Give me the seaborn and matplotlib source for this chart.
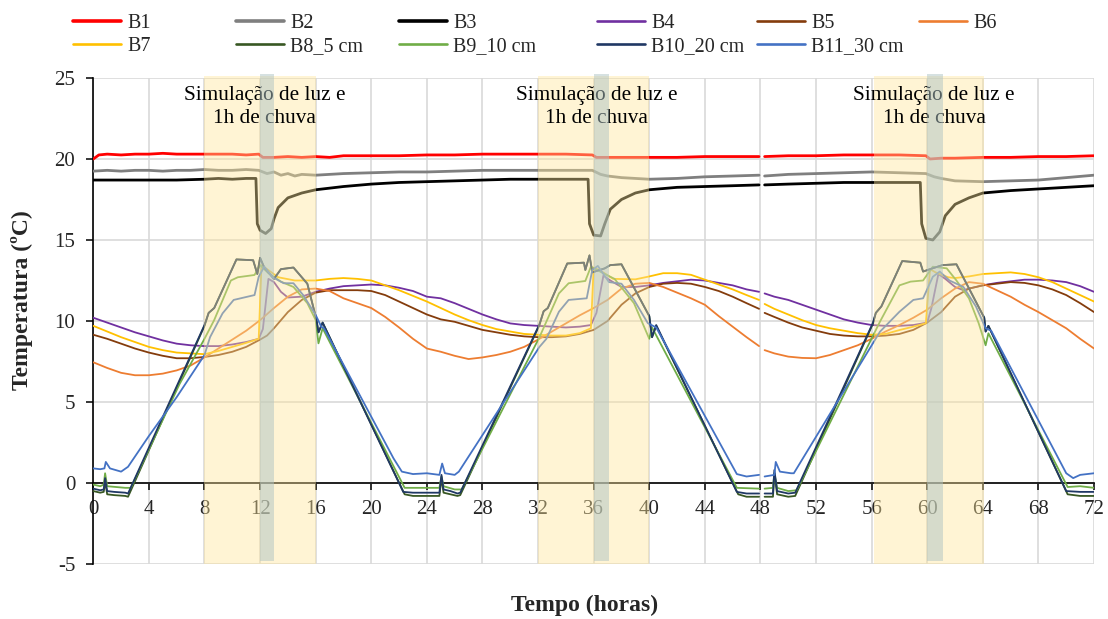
import numpy as np
import pandas as pd
import matplotlib
matplotlib.use("Agg")
import matplotlib.pyplot as plt
import seaborn as sns
from matplotlib.lines import Line2D

nan = float("nan")

# ---------------- data (hour, temperature °C) ----------------
B1 = [(0, 20.0), (0.4, 20.25), (1, 20.3), (2, 20.25), (3, 20.3), (4, 20.3), (5, 20.35), (6, 20.3),
      (7, 20.3), (8, 20.3), (9, 20.3), (10, 20.3), (11, 20.25), (11.9, 20.3), (12.2, 20.1), (13, 20.1),
      (14, 20.15), (15, 20.1), (16, 20.15), (17, 20.1), (18, 20.2), (20, 20.2), (22, 20.2), (24, 20.25),
      (26, 20.25), (28, 20.3), (30, 20.3), (32, 20.3), (34, 20.3), (35.9, 20.25), (36.2, 20.1), (37, 20.1),
      (38, 20.1), (40, 20.1), (42, 20.1), (44, 20.15), (46, 20.15), (47.9, 20.15), (48.1, nan), (48.3, 20.15),
      (50, 20.2), (52, 20.2), (54, 20.25), (56, 20.25), (58, 20.25), (59.9, 20.2), (60.2, 20.0), (61, 20.05),
      (62, 20.05), (64, 20.1), (66, 20.1), (68, 20.15), (70, 20.15), (72, 20.2)]

B2 = [(0, 19.25), (1, 19.3), (2, 19.25), (3, 19.3), (4, 19.3), (5, 19.25), (6, 19.3), (7, 19.3), (8, 19.35),
      (9, 19.3), (10, 19.3), (11, 19.35), (11.9, 19.3), (12.5, 19.1), (13, 19.2), (13.5, 19.0), (14, 19.1),
      (14.5, 18.95), (15, 19.05), (16, 19.0), (17, 19.05), (18, 19.1), (20, 19.15), (22, 19.2), (24, 19.2),
      (26, 19.25), (28, 19.3), (30, 19.3), (32, 19.3), (34, 19.3), (35.9, 19.3), (36.5, 19.05), (37, 18.95),
      (38, 18.85), (39, 18.8), (40, 18.75), (42, 18.8), (44, 18.9), (46, 18.95), (47.9, 19.0), (48.1, nan),
      (48.3, 18.95), (50, 19.05), (52, 19.1), (54, 19.15), (56, 19.2), (58, 19.15), (59.9, 19.1), (60.5, 18.9),
      (61, 18.8), (62, 18.65), (64, 18.6), (66, 18.65), (68, 18.7), (70, 18.85), (72, 19.0)]

B3 = [(0, 18.7), (2, 18.7), (4, 18.7), (6, 18.7), (8, 18.75), (9, 18.8), (10, 18.75), (11, 18.8), (11.7, 18.8),
      (11.8, 16.0), (12.0, 15.6), (12.4, 15.4), (12.8, 15.7), (13.0, 16.3), (13.3, 17.0), (14, 17.6), (15, 17.9),
      (16, 18.1), (18, 18.3), (20, 18.45), (22, 18.55), (24, 18.6), (26, 18.65), (28, 18.7), (30, 18.75),
      (32, 18.75), (34, 18.75), (35.6, 18.75), (35.7, 16.0), (36, 15.3), (36.5, 15.25), (36.8, 16.0),
      (37.2, 16.9), (38, 17.5), (39, 17.9), (40, 18.1), (42, 18.25), (44, 18.3), (46, 18.35), (47.9, 18.4),
      (48.1, nan), (48.3, 18.4), (50, 18.45), (52, 18.5), (54, 18.55), (56, 18.55), (58, 18.55), (59.5, 18.55),
      (59.6, 16.0), (59.9, 15.1), (60.4, 15.0), (60.9, 15.5), (61.3, 16.5), (62, 17.2), (63, 17.6), (64, 17.9),
      (66, 18.05), (68, 18.15), (70, 18.25), (72, 18.35)]

B4 = [(0, 10.2), (1, 9.9), (2, 9.6), (3, 9.3), (4, 9.05), (5, 8.8), (6, 8.6), (7, 8.5), (8, 8.45), (9, 8.45),
      (10, 8.55), (11, 8.7), (11.9, 8.9), (12.2, 9.5), (12.6, 12.6), (13, 12.4), (13.5, 11.8), (14, 11.45),
      (15, 11.5), (16, 11.8), (17, 12.0), (18, 12.15), (19, 12.2), (20, 12.25), (21, 12.2), (22, 12.05),
      (23, 11.85), (24, 11.5), (25, 11.4), (26, 11.1), (27, 10.75), (28, 10.4), (29, 10.1), (30, 9.85),
      (31, 9.75), (32, 9.7), (33, 9.65), (34, 9.6), (35, 9.65), (35.8, 9.75), (36.2, 10.5), (36.7, 12.8),
      (37.2, 12.5), (38, 12.1), (39, 12.1), (40, 12.2), (41, 12.35), (42, 12.45), (43, 12.55), (44, 12.5),
      (45, 12.35), (46, 12.2), (47, 11.95), (47.9, 11.8), (48.1, nan), (48.3, 11.7), (49, 11.5), (50, 11.3),
      (51, 11.0), (52, 10.7), (53, 10.4), (54, 10.1), (55, 9.9), (56, 9.75), (57, 9.7), (58, 9.7), (59, 9.75),
      (60, 9.9), (60.3, 10.8), (60.8, 12.9), (61.3, 12.6), (62, 12.1), (62.6, 11.9), (63, 12.0), (64, 12.2),
      (65, 12.35), (66, 12.45), (67, 12.55), (68, 12.55), (69, 12.5), (70, 12.4), (71, 12.15), (72, 11.8)]

B5 = [(0, 9.15), (1, 8.9), (2, 8.6), (3, 8.3), (4, 8.05), (5, 7.85), (6, 7.7), (7, 7.7), (8, 7.78), (9, 7.9),
      (10, 8.1), (11, 8.4), (12, 8.85), (12.5, 9.1), (13, 9.55), (14, 10.55), (15, 11.3), (16, 11.75),
      (17, 11.9), (18, 11.9), (19, 11.9), (20, 11.85), (21, 11.6), (22, 11.2), (23, 10.8), (24, 10.4),
      (25, 10.1), (26, 9.95), (27, 9.7), (28, 9.45), (29, 9.3), (30, 9.15), (31, 9.05), (32, 9.0), (33, 9.0),
      (34, 9.05), (35, 9.2), (36, 9.45), (37, 10.0), (38, 11.0), (39, 11.7), (40, 12.1), (41, 12.3),
      (42, 12.35), (43, 12.3), (44, 12.1), (45, 11.85), (46, 11.5), (47, 11.1), (47.9, 10.75), (48.1, nan),
      (48.3, 10.5), (49, 10.25), (50, 9.9), (51, 9.6), (52, 9.4), (53, 9.2), (54, 9.1), (55, 9.05), (56, 9.05),
      (57, 9.1), (58, 9.2), (59, 9.45), (60, 9.9), (61, 10.55), (62, 11.5), (63, 12.0), (64, 12.2), (65, 12.3),
      (66, 12.4), (67, 12.35), (68, 12.2), (69, 11.95), (70, 11.6), (71, 11.1), (72, 10.55)]

B6 = [(0, 7.45), (1, 7.1), (2, 6.8), (3, 6.65), (4, 6.65), (5, 6.75), (6, 6.95), (7, 7.25), (8, 7.75), (9, 8.3),
      (10, 8.85), (11, 9.4), (12, 10.05), (13, 10.8), (14, 11.5), (15, 11.95), (16, 12.0), (17, 11.85),
      (18, 11.4), (19, 11.1), (20, 10.8), (21, 10.25), (22, 9.6), (23, 8.9), (24, 8.3), (25, 8.1), (26, 7.85),
      (27, 7.65), (28, 7.75), (29, 7.9), (30, 8.1), (31, 8.4), (32, 8.85), (33, 9.35), (34, 9.85), (35, 10.35),
      (36, 10.8), (37, 11.3), (38, 12.0), (39, 12.3), (40, 12.35), (41, 12.1), (42, 11.75), (43, 11.4),
      (44, 11.0), (45, 10.3), (46, 9.65), (47, 9.0), (47.9, 8.45), (48.1, nan), (48.3, 8.2), (49, 8.0),
      (50, 7.8), (51, 7.72), (52, 7.7), (53, 7.9), (54, 8.2), (55, 8.5), (56, 8.9), (57, 9.35), (58, 9.75),
      (59, 10.2), (60, 10.7), (61, 11.4), (62, 12.0), (63, 12.4), (64, 12.3), (65, 11.9), (66, 11.5),
      (67, 11.0), (68, 10.55), (69, 10.05), (70, 9.55), (71, 8.9), (72, 8.3)]

B7 = [(0, 9.7), (1, 9.35), (2, 9.0), (3, 8.7), (4, 8.4), (5, 8.2), (6, 8.05), (7, 8.0), (8, 7.95), (9, 8.15),
      (10, 8.4), (11, 8.65), (11.9, 8.9), (12.1, 13.45), (12.5, 13.2), (13.3, 12.7), (14.5, 12.5), (16, 12.5),
      (17, 12.6), (18, 12.65), (19, 12.6), (20, 12.5), (21, 12.2), (22, 11.9), (23, 11.55), (24, 11.2),
      (25, 10.8), (26, 10.4), (27, 10.05), (28, 9.75), (29, 9.5), (30, 9.35), (31, 9.2), (32, 9.15), (33, 9.1),
      (34, 9.1), (35, 9.25), (35.8, 9.55), (36.0, 13.3), (36.5, 13.1), (37.4, 12.6), (39, 12.57), (40, 12.75),
      (41, 12.95), (42, 12.95), (43, 12.85), (44, 12.55), (45, 12.25), (46, 11.95), (47, 11.6), (47.9, 11.3),
      (48.1, nan), (48.3, 11.05), (49, 10.75), (50, 10.4), (51, 10.05), (52, 9.75), (53, 9.55), (54, 9.4),
      (55, 9.25), (56, 9.15), (57, 9.2), (58, 9.44), (59, 9.65), (59.9, 9.86), (60.2, 13.2), (60.6, 13.0),
      (61.5, 12.7), (62, 12.65), (63, 12.75), (64, 12.9), (65, 12.95), (66, 13.0), (67, 12.9), (68, 12.7),
      (69, 12.4), (70, 12.0), (71, 11.6), (72, 11.2)]

B8 = [(0, -0.5), (0.5, -0.6), (0.75, -0.55), (0.85, 0.1), (1.0, -0.7), (1.5, -0.75), (2.3, -0.8), (2.5, -0.85),
      (8.0, 9.7), (8.3, 10.5), (8.7, 10.8), (10.3, 13.8), (11.5, 13.75), (11.8, 12.9), (12.0, 13.9),
      (12.3, 13.3), (13.0, 12.6), (13.5, 13.2), (14.4, 13.3), (15.4, 12.3), (16.05, 10.1), (16.2, 9.3),
      (16.5, 9.9), (22.4, -0.7), (23, -0.8), (24, -0.8), (24.9, -0.8), (25.05, 0.3), (25.2, -0.6), (25.7, -0.7),
      (26.2, -0.8), (26.4, -0.75), (32.1, 9.75), (32.4, 10.6), (32.7, 10.8), (34.1, 13.55), (35.3, 13.6),
      (35.4, 13.15), (35.7, 14.05), (35.9, 13.0), (36.8, 13.25), (37.2, 13.45), (38.0, 13.5), (40.0, 10.3),
      (40.2, 9.0), (40.5, 9.7), (46.4, -0.7), (47, -0.85), (47.9, -0.85), (48.1, nan), (48.3, -0.85),
      (48.9, -0.85), (49.0, 0.6), (49.2, -0.7), (50, -0.85), (50.5, -0.8), (56.1, 9.85), (56.3, 10.5),
      (56.7, 10.9), (58.2, 13.7), (59.5, 13.6), (59.7, 13.05), (60.2, 13.2), (61.1, 13.45), (62.1, 13.5),
      (64.1, 10.2), (64.2, 9.35), (64.4, 9.7), (70.1, -0.7), (71, -0.8), (72, -0.8)]

B9 = [(0, -0.1), (0.5, -0.2), (0.75, -0.1), (0.85, 0.6), (1.0, -0.2), (2.3, -0.3), (2.7, -0.3), (6.2, 6.1),
      (8.0, 8.9), (8.7, 10.06), (9.9, 12.5), (10.4, 12.7), (11.6, 12.84), (12.0, 13.45), (12.6, 12.95),
      (13.5, 12.43), (14.4, 12.1), (15.4, 11.1), (16.0, 10.06), (16.2, 8.62), (16.5, 9.55), (22.4, -0.3),
      (24.9, -0.3), (25.05, 0.4), (25.2, -0.2), (26, -0.4), (26.5, -0.4), (32.1, 9.0), (33.5, 11.7),
      (34.2, 12.33), (35.4, 12.47), (35.8, 13.35), (36.8, 12.9), (37.5, 12.6), (38.9, 11.1), (40.0, 8.9),
      (40.2, 9.6), (46.3, -0.3), (47.9, -0.35), (48.1, nan), (48.3, -0.35), (48.9, -0.3), (49.0, 0.6),
      (49.2, -0.3), (50, -0.5), (50.6, -0.45), (56.6, 9.96), (58.0, 12.2), (58.8, 12.43), (59.7, 12.5),
      (60.4, 13.35), (61.4, 13.25), (62.1, 12.5), (63.0, 11.4), (63.7, 9.86), (64.2, 8.5), (64.4, 9.24),
      (70.1, -0.25), (71, -0.2), (72, -0.3)]

B10 = [(0, -0.35), (0.5, -0.45), (0.75, -0.4), (0.85, 0.3), (1.0, -0.5), (1.5, -0.55), (2.3, -0.6), (2.5, -0.65),
       (8.0, 9.75), (8.3, 10.5), (8.7, 10.8), (10.3, 13.8), (11.5, 13.75), (11.8, 12.9), (12.0, 13.9),
       (12.3, 13.3), (13.0, 12.6), (13.5, 13.2), (14.4, 13.3), (15.4, 12.3), (16.05, 10.1), (16.2, 9.3),
       (16.5, 9.9), (22.3, -0.55), (23, -0.6), (24, -0.6), (24.9, -0.6), (25.05, 0.5), (25.2, -0.4),
       (25.7, -0.5), (26.2, -0.65), (26.4, -0.6), (32.1, 9.8), (32.4, 10.6), (32.7, 10.8), (34.1, 13.55),
       (35.3, 13.6), (35.4, 13.15), (35.7, 14.05), (35.9, 13.0), (36.8, 13.25), (37.2, 13.45), (38.0, 13.5),
       (40.0, 10.3), (40.2, 9.0), (40.5, 9.75), (46.3, -0.55), (47, -0.65), (47.9, -0.65), (48.1, nan),
       (48.3, -0.65), (48.9, -0.65), (49.0, 0.8), (49.2, -0.5), (50, -0.65), (50.5, -0.6), (56.1, 9.9),
       (56.3, 10.5), (56.7, 10.9), (58.2, 13.7), (59.5, 13.6), (59.7, 13.05), (60.2, 13.2), (61.1, 13.45),
       (62.1, 13.5), (64.1, 10.2), (64.2, 9.35), (64.4, 9.7), (70.0, -0.5), (71, -0.55), (72, -0.55)]

B11 = [(0, 0.9), (0.5, 0.85), (0.8, 0.9), (0.9, 1.3), (1.2, 0.9), (2.0, 0.7), (2.5, 1.0), (4, 2.9), (6, 5.3),
       (8, 7.9), (8.4, 9.0), (9.3, 10.47), (10.1, 11.3), (11.6, 11.6), (11.9, 12.73), (12.3, 13.35),
       (12.9, 12.7), (13.7, 12.33), (14.4, 12.33), (15.1, 11.6), (16.0, 10.37), (16.4, 9.65), (16.6, 9.55),
       (21.6, 1.52), (22.2, 0.7), (23, 0.55), (24, 0.6), (24.9, 0.5), (25.1, 1.2), (25.3, 0.6), (26.0, 0.5),
       (26.3, 0.7), (32.1, 8.4), (32.6, 8.9), (33.5, 10.57), (34.2, 11.3), (35.5, 11.4), (35.9, 13.15),
       (36.3, 13.4), (37.1, 12.4), (38.0, 12.3), (38.9, 11.3), (39.9, 9.86), (40.5, 9.6), (46.3, 0.55),
       (47, 0.4), (47.9, 0.5), (48.1, nan), (48.3, 0.4), (49.0, 0.5), (49.1, 1.3), (49.4, 0.7), (50.2, 0.6),
       (50.4, 0.6), (56.6, 9.34), (58.0, 10.57), (59.0, 11.3), (59.7, 11.4), (60.4, 12.73), (60.9, 13.05),
       (61.6, 12.5), (62.6, 12.1), (63.5, 10.9), (64.2, 9.55), (64.6, 9.4), (70.0, 0.6), (70.5, 0.3),
       (71, 0.5), (72, 0.6)]

SERIES = [B1, B2, B3, B4, B5, B6, B7, B8, B9, B10, B11]
LABELS = ["B1", "B2", "B3", "B4", "B5", "B6", "B7", "B8_5 cm", "B9_10 cm", "B10_20 cm", "B11_30 cm"]
COLORS = ["#FF0000", "#7F7F7F", "#000000", "#7030A0", "#843C0C", "#ED7D31", "#FFC000",
          "#385723", "#70AD47", "#203864", "#4472C4"]
WIDTHS = [2.0, 2.0, 2.0, 1.3, 1.3, 1.3, 1.3, 1.3, 1.3, 1.3, 1.3]

LIGHT_PERIODS = [(8.0, 16.0), (32.0, 40.0), (56.2, 64.1)]
RAIN_PERIODS = [(12.0, 13.0), (36.0, 37.1), (60.0, 61.1)]
NOTE_X = [12.3, 36.2, 60.5]
NOTE_LINES = ["Simulação de luz e", "1h de chuva"]
X_TICKS = list(range(0, 73, 4))
Y_TICKS = list(range(-5, 26, 5))

# ---------------- figure ----------------
sns.set_style("white")
plt.rcParams["font.family"] = ["Liberation Serif", "DejaVu Serif"]

fig = plt.figure(figsize=(11.08, 6.19), dpi=100)
ax = fig.add_axes([0.0842, 0.0889, 0.9032, 0.7851])


def segments(pairs):
    seg = []
    for t, v in pairs:
        if v != v:
            if seg:
                yield seg
            seg = []
        else:
            seg.append((t, v))
    if seg:
        yield seg


for data, color, lw in zip(SERIES, COLORS, WIDTHS):
    for seg in segments(data):
        df = pd.DataFrame(seg, columns=["t", "v"])
        sns.lineplot(data=df, x="t", y="v", color=color, linewidth=lw, estimator=None,
                     sort=False, ax=ax, legend=False, zorder=3)

# shaded periods (drawn over the lines, like the original)
for a, b in LIGHT_PERIODS:
    ax.axvspan(a, b, ymin=0, ymax=1.004, color="#FFE699", alpha=0.42, lw=0, zorder=4, clip_on=False)
for a, b in RAIN_PERIODS:
    ax.axvspan(a, b, ymin=0.006, ymax=1.008, color="#AFC4C4", alpha=0.5, lw=0, zorder=6, clip_on=False)

for x in NOTE_X:
    ax.text(x, 23.95, NOTE_LINES[0], ha="center", va="center", fontsize=15.3, color="black", zorder=5)
    ax.text(x, 22.47, NOTE_LINES[1], ha="center", va="center", fontsize=15.3, color="black", zorder=5)

ax.set_xlim(0, 72)
ax.set_ylim(-5, 25)

ax.grid(True, color="#D9D9D9", linewidth=1.2, zorder=0)
ax.set_axisbelow(True)
for s in ["top", "right"]:
    ax.spines[s].set_visible(False)
ax.spines["bottom"].set_position(("data", 0))
ax.spines["bottom"].set_color("black")
ax.spines["bottom"].set_linewidth(1.2)
ax.spines["left"].set_color("black")
ax.spines["left"].set_linewidth(1.2)

ax.set_xticks(X_TICKS)
ax.set_yticks(Y_TICKS)
ax.set_xticklabels([str(v) for v in X_TICKS])
ax.set_yticklabels([str(v) for v in Y_TICKS])
ax.tick_params(axis="x", direction="out", length=5, width=1.1, color="black", pad=7,
               bottom=True, labelsize=15)
ax.tick_params(axis="y", direction="out", length=5, width=1.1, color="black", pad=8,
               left=True, labelsize=15)
ax.set_xlabel("")
ax.set_ylabel("")

fig.text(585 / 1108, 1 - 605 / 619, "Tempo (horas)", ha="center", va="center",
         fontsize=17, fontweight="bold")
fig.text(22 / 1108, 1 - 300 / 619, "Temperatura (ºC)", ha="center", va="center",
         fontsize=17, fontweight="bold", rotation=90)

# legend: 6 columns, row-major like the original
col_x = [73, 236, 399, 597, 757, 919]
cols = [[0, 6], [1, 7], [2, 8], [3, 9], [4, 10], [5]]
for cx, idxs in zip(col_x, cols):
    handles = [Line2D([], [], color=COLORS[i], lw=WIDTHS[i] + 0.6) for i in idxs]
    labels = [LABELS[i] for i in idxs]
    fig.legend(handles, labels, loc="upper left", bbox_to_anchor=(cx / 1108, 1 - 14 / 619),
               frameon=False, fontsize=14.5, handlelength=2.4, handletextpad=0.3,
               labelspacing=0.2, borderpad=0, borderaxespad=0)

fig.savefig("out.png", dpi=100)
